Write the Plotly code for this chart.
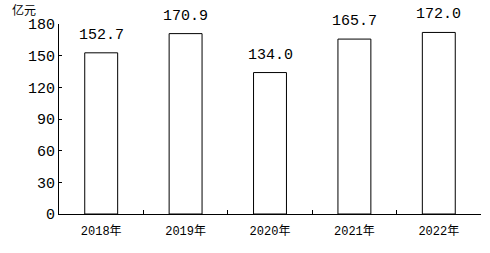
import plotly.graph_objects as go

categories = ["2018年", "2019年", "2020年", "2021年", "2022年"]
values = [152.7, 170.9, 134.0, 165.7, 172.0]
value_labels = ["152.7", "170.9", "134.0", "165.7", "172.0"]
y_ticks = [0, 30, 60, 90, 120, 150, 180]

FONT = "Liberation Mono, Noto Sans CJK SC, sans-serif"

fig = go.Figure()
fig.add_trace(go.Bar(
    x=categories, y=values, width=0.39,
    marker=dict(color="white", line=dict(color="black", width=1)),
    showlegend=False, hoverinfo="skip",
))

for c, v, t in zip(categories, values, value_labels):
    fig.add_annotation(x=c, y=v, text=t, showarrow=False, yanchor="bottom",
                       yshift=7, font=dict(family=FONT, size=15, color="black"))

fig.add_annotation(xref="paper", yref="paper", x=-0.115, y=1.02, text="亿元",
                   showarrow=False, xanchor="left", yanchor="bottom",
                   font=dict(family="Noto Sans CJK SC", size=12, color="black"))

fig.update_layout(
    width=490, height=253,
    margin=dict(l=59, r=9, t=24, b=39),
    paper_bgcolor="white", plot_bgcolor="white",
    bargap=0.61,
)
fig.update_xaxes(
    type="category", range=[-0.5, 4.5],
    showline=True, linecolor="black", linewidth=1,
    ticks="inside", tickson="boundaries", ticklen=4, tickcolor="black",
    showgrid=False, zeroline=False, ticklabelstandoff=6,
    tickfont=dict(family=FONT, size=12, color="black"),
)
fig.update_yaxes(
    range=[0, 180], tickvals=y_ticks,
    showline=True, linecolor="black", linewidth=1,
    ticks="inside", ticklen=3, tickcolor="black",
    showgrid=False, zeroline=False,
    tickfont=dict(family=FONT, size=15, color="black"),
)

fig.write_html("out.html")
